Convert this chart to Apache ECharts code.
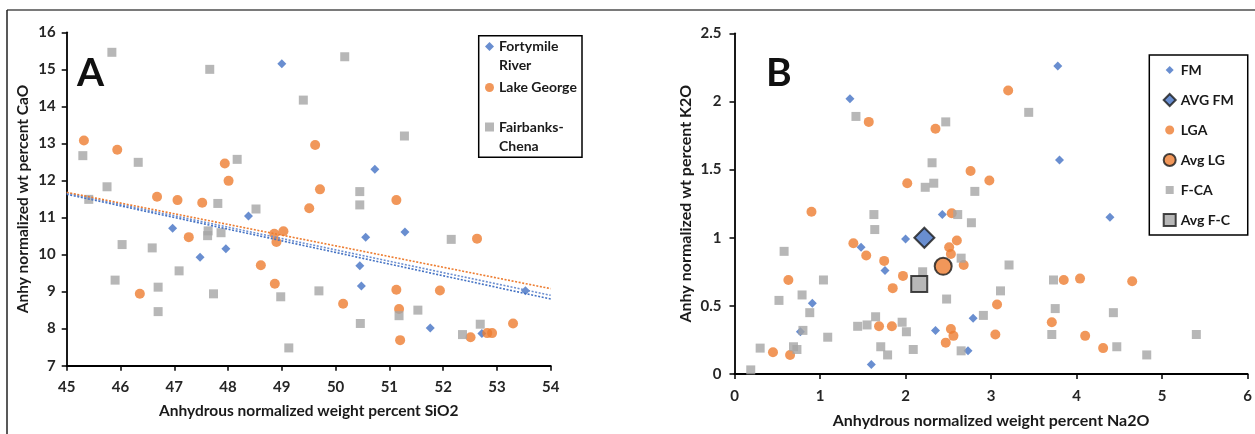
<!DOCTYPE html>
<html>
<head>
<meta charset="utf-8">
<script src="https://cdn.jsdelivr.net/npm/echarts@6/dist/echarts.min.js"></script>
<style>
html,body{margin:0;padding:0;background:#fff;}
#chart{width:1255px;height:434px;}
</style>
</head>
<body>
<div id="chart"></div>
<script>
// ---------- Panel A data (SiO2 vs CaO) ----------
const fortymileA = [[49.0,15.15],[48.38,11.04],[46.97,10.71],[47.48,9.93],[47.96,10.16],[50.73,12.30],[50.56,10.47],[51.29,10.61],[50.45,9.70],[50.48,9.15],[51.76,8.02],[52.72,7.87],[53.53,9.02]];
const lakeGeorgeA = [[45.32,13.08],[45.94,12.83],[46.68,11.56],[47.06,11.47],[47.52,11.40],[47.94,12.46],[48.01,11.99],[49.62,12.96],[49.71,11.76],[49.51,11.25],[51.13,11.47],[47.27,10.47],[46.36,8.94],[48.61,9.71],[48.86,10.56],[49.03,10.63],[48.90,10.34],[48.87,9.21],[50.14,8.67],[51.13,9.05],[51.18,8.53],[51.20,7.69],[51.94,9.03],[52.63,10.43],[52.51,7.77],[52.82,7.88],[52.91,7.88],[53.30,8.14]];
const fairbanksA = [[45.84,15.46],[47.66,15.00],[49.40,14.17],[50.17,15.34],[51.28,13.20],[50.45,11.70],[50.45,11.34],[45.30,12.67],[45.41,11.49],[45.75,11.83],[46.33,12.49],[48.17,12.57],[47.81,11.38],[48.52,11.23],[46.03,10.27],[45.90,9.31],[46.59,10.18],[46.70,9.12],[46.70,8.46],[47.09,9.56],[47.63,10.64],[47.62,10.51],[47.87,10.59],[47.73,8.94],[48.98,8.86],[49.13,7.48],[49.69,9.02],[52.15,10.41],[50.46,8.14],[51.18,8.35],[51.53,8.50],[52.36,7.84],[52.69,8.12]];
const trendFortymileA = [[45,11.63],[54,8.80]];
const trendFairbanksA = [[45,11.66],[54,8.90]];
const trendLakeGeorgeA = [[45,11.68],[54,9.08]];
const namesA = ['Fortymile\nRiver','Lake George','Fairbanks-\nChena'];

// ---------- Panel B data (Na2O vs K2O) ----------
const fmB = [[1.35,2.02],[3.78,2.26],[3.80,1.57],[4.39,1.15],[2.43,1.17],[2.00,0.99],[1.48,0.93],[1.76,0.76],[0.91,0.52],[0.77,0.31],[1.60,0.07],[2.35,0.32],[2.73,0.17],[2.79,0.41]];
const avgFmB = [[2.22,1.00]];
const lgaB = [[1.57,1.85],[2.35,1.80],[3.20,2.08],[2.02,1.40],[2.76,1.49],[2.98,1.42],[0.90,1.19],[2.54,1.18],[1.39,0.96],[1.54,0.87],[1.75,0.83],[1.97,0.72],[1.85,0.63],[0.63,0.69],[0.45,0.16],[0.65,0.14],[1.69,0.35],[1.84,0.35],[2.60,0.98],[2.51,0.93],[2.53,0.88],[2.68,0.80],[2.53,0.33],[2.56,0.28],[2.47,0.23],[3.07,0.51],[3.05,0.29],[3.85,0.69],[4.04,0.70],[4.65,0.68],[3.71,0.38],[4.10,0.28],[4.31,0.19]];
const avgLgB = [[2.44,0.79]];
const fcaB = [[1.42,1.89],[2.47,1.85],[3.44,1.92],[2.31,1.55],[2.23,1.37],[2.33,1.40],[2.81,1.34],[1.63,1.17],[1.64,1.06],[2.61,1.17],[2.77,1.11],[0.58,0.90],[1.04,0.69],[0.52,0.54],[0.79,0.58],[0.88,0.45],[0.80,0.32],[1.09,0.27],[0.30,0.19],[0.69,0.20],[0.73,0.18],[0.19,0.03],[1.44,0.35],[1.55,0.36],[1.65,0.42],[1.96,0.38],[2.01,0.31],[1.71,0.20],[1.79,0.14],[2.09,0.18],[2.20,0.75],[2.48,0.55],[2.65,0.85],[2.65,0.17],[3.21,0.80],[3.11,0.61],[2.91,0.43],[3.73,0.69],[3.75,0.48],[3.71,0.29],[4.43,0.45],[4.47,0.20],[4.82,0.14],[5.40,0.29]];
const avgFcB = [[2.16,0.66]];
const namesB = ['FM','AVG FM','LGA','Avg LG','F-CA','Avg F-C'];

const titleXA = 'Anhydrous normalized weight percent SiO2';
const titleYA = 'Anhy normalized wt percent CaO';
const titleXB = 'Anhydrous normalized weight percent Na2O';
const titleYB = 'Anhy normalized wt percent K2O';

const BLUE = '#4472C4', ORANGE = '#ED7D31', GRAY = '#A5A5A5', DARK = '#1a1a1a';
const FONT = "Lato, 'Open Sans', sans-serif";

function axisCommon(extra, nameSize, labelMargin) {
  return Object.assign({
    type: 'value',
    splitLine: {show: false},
    axisLine: {show: true, onZero: false, lineStyle: {color: '#000', width: 1.8}},
    axisTick: {show: true, inside: false, length: 5, lineStyle: {color: '#000', width: 1.5}},
    axisLabel: {color: '#262626', fontFamily: FONT, fontWeight: 'bold', fontSize: 15, margin: labelMargin},
    nameLocation: 'middle',
    nameTextStyle: {color: '#1a1a1a', fontFamily: FONT, fontWeight: 'bold', fontSize: nameSize}
  }, extra);
}

const legendTextA = {color: '#1a1a1a', fontFamily: FONT, fontWeight: 'bold', fontSize: 14, lineHeight: 19};
function legendA(name, top, icon, twoLine) {
  return {
    show: true, left: 485, top: top, orient: 'vertical', padding: 0,
    itemWidth: 9, itemHeight: 9, selectedMode: false,
    data: [{name: name, icon: icon}],
    formatter: twoLine ? function (n) { return '\n' + n; } : null,
    textStyle: legendTextA
  };
}

const option = {
  animation: false,
  backgroundColor: '#fff',
  grid: [
    {left: 66.7, top: 32.3, width: 484, height: 333.4, containLabel: false},
    {left: 734.5, top: 33.3, width: 513.5, height: 345.7, containLabel: false}
  ],
  xAxis: [
    axisCommon({gridIndex: 0, min: 45, max: 54, interval: 1, name: titleXA, nameGap: 37}, 15.5, 14),
    axisCommon({gridIndex: 1, min: 0, max: 6, interval: 1, name: titleXB, nameGap: 39}, 16, 15)
  ],
  yAxis: [
    axisCommon({gridIndex: 0, min: 7, max: 16, interval: 1, name: titleYA, nameGap: 36}, 15.5, 11),
    axisCommon({gridIndex: 1, min: 0, max: 2.5, interval: 0.5, name: titleYB, nameGap: 41}, 16, 13)
  ],
  legend: [
    legendA(namesA[0], 18, 'diamond', true),
    legendA(namesA[1], 78, 'circle', false),
    legendA(namesA[2], 98.5, 'rect', true),
    {
      show: true, left: 1149.3, top: 55, orient: 'vertical',
      padding: [7, 14, 7, 13.4], itemGap: 14, itemWidth: 12, itemHeight: 12,
      borderColor: '#000', borderWidth: 1.5, selectedMode: false,
      textStyle: {color: '#1a1a1a', fontFamily: FONT, fontWeight: 'bold', fontSize: 14, lineHeight: 16, width: 50},
      data: [
        {name: namesB[0], icon: 'path://M0,0M12,12M6,2L10,6L6,10L2,6Z'},
        {name: namesB[1], icon: 'diamond'},
        {name: namesB[2], icon: 'path://M0,0M12,12M6,1.5A4.5,4.5,0,1,1,5.99,1.5Z'},
        {name: namesB[3], icon: 'circle'},
        {name: namesB[4], icon: 'path://M0,0M12,12M2,2L10,2L10,10L2,10Z'},
        {name: namesB[5], icon: 'rect'}
      ]
    }
  ],
  graphic: [
    {type: 'line', shape: {x1: 7, y1: 10, x2: 1255, y2: 10}, style: {stroke: '#7a7a7a', lineWidth: 2}},
    {type: 'line', shape: {x1: 7, y1: 10, x2: 7, y2: 434}, style: {stroke: '#222', lineWidth: 1.5}},
    {type: 'rect', shape: {x: 478.7, y: 35.7, width: 103.3, height: 121.6}, style: {fill: 'none', stroke: '#000', lineWidth: 1.5}},
    {type: 'text', left: 77, top: 54, style: {text: 'A', fill: '#111', font: "bold 39px " + FONT}},
    {type: 'text', left: 766, top: 54, style: {text: 'B', fill: '#111', font: "bold 39px " + FONT}}
  ],
  series: [
    {name: namesA[0], type: 'scatter', xAxisIndex: 0, yAxisIndex: 0, symbol: 'diamond', symbolSize: 9, itemStyle: {color: BLUE}, data: fortymileA, emphasis: {disabled: true}},
    {name: namesA[1], type: 'scatter', xAxisIndex: 0, yAxisIndex: 0, symbol: 'circle', symbolSize: 10, itemStyle: {color: ORANGE}, data: lakeGeorgeA, emphasis: {disabled: true}},
    {name: namesA[2], type: 'scatter', xAxisIndex: 0, yAxisIndex: 0, symbol: 'rect', symbolSize: 9, itemStyle: {color: GRAY}, data: fairbanksA, emphasis: {disabled: true}},
    {name: 'trendFM', type: 'line', xAxisIndex: 0, yAxisIndex: 0, symbol: 'none', data: trendFortymileA, lineStyle: {color: BLUE, width: 1.6, type: [2, 1.6]}, z: 3, silent: true},
    {name: 'trendFC', type: 'line', xAxisIndex: 0, yAxisIndex: 0, symbol: 'none', data: trendFairbanksA, lineStyle: {color: '#6d8fd0', width: 1.6, type: [2, 1.6]}, z: 3, silent: true},
    {name: 'trendLG', type: 'line', xAxisIndex: 0, yAxisIndex: 0, symbol: 'none', data: trendLakeGeorgeA, lineStyle: {color: ORANGE, width: 1.6, type: [2, 1.6]}, z: 3, silent: true},

    {name: namesB[0], type: 'scatter', xAxisIndex: 1, yAxisIndex: 1, symbol: 'diamond', symbolSize: 9, itemStyle: {color: BLUE}, data: fmB, emphasis: {disabled: true}},
    {name: namesB[2], type: 'scatter', xAxisIndex: 1, yAxisIndex: 1, symbol: 'circle', symbolSize: 10, itemStyle: {color: ORANGE}, data: lgaB, emphasis: {disabled: true}},
    {name: namesB[4], type: 'scatter', xAxisIndex: 1, yAxisIndex: 1, symbol: 'rect', symbolSize: 9, itemStyle: {color: GRAY}, data: fcaB, emphasis: {disabled: true}},
    {name: namesB[1], type: 'scatter', xAxisIndex: 1, yAxisIndex: 1, symbol: 'diamond', symbolSize: 20, itemStyle: {color: BLUE, borderColor: DARK, borderWidth: 2}, data: avgFmB, z: 5, emphasis: {disabled: true}},
    {name: namesB[3], type: 'scatter', xAxisIndex: 1, yAxisIndex: 1, symbol: 'circle', symbolSize: 17, itemStyle: {color: ORANGE, borderColor: DARK, borderWidth: 2}, data: avgLgB, z: 5, emphasis: {disabled: true}},
    {name: namesB[5], type: 'scatter', xAxisIndex: 1, yAxisIndex: 1, symbol: 'rect', symbolSize: 16, itemStyle: {color: GRAY, borderColor: DARK, borderWidth: 2}, data: avgFcB, z: 5, emphasis: {disabled: true}}
  ]
};

const chart = echarts.init(document.getElementById('chart'), null, {renderer: 'canvas'});
chart.setOption(option);
</script>
</body>
</html>
